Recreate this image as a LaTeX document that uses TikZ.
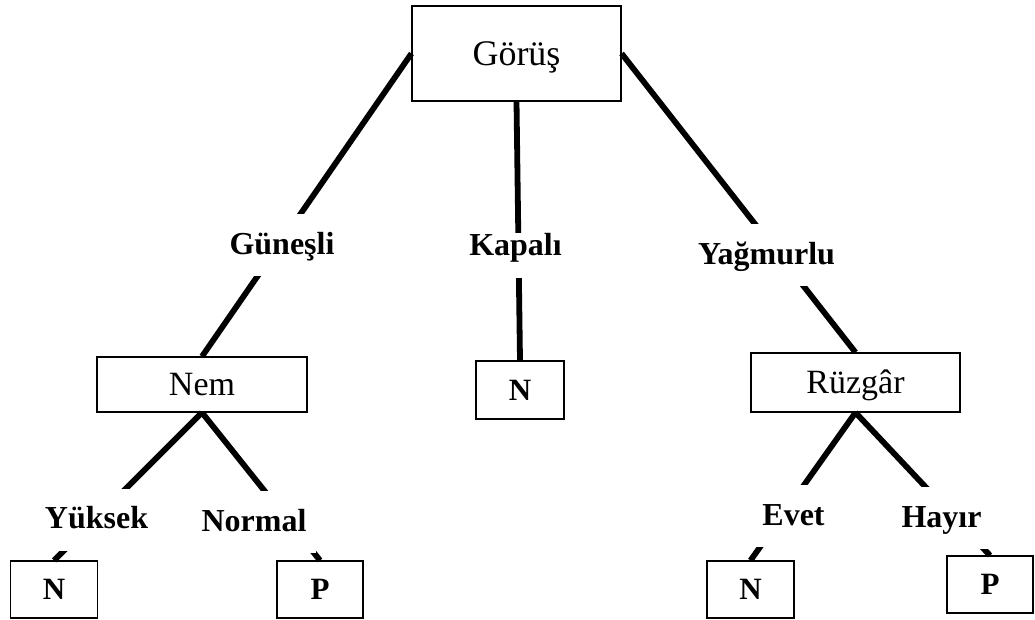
\documentclass[tikz,border=0pt]{standalone}
\usepackage{fontspec}
\setmainfont{Liberation Serif}
\begin{document}
\begin{tikzpicture}[x=1pt,y=-1pt,
  box/.style={draw, line width=1.1pt, inner sep=0pt, font=\fontsize{34}{40}\selectfont},
  leaf/.style={draw, line width=1.1pt, inner sep=0pt, minimum width=87pt, minimum height=57pt, font=\bfseries\fontsize{31}{37}\selectfont},
  edge/.style={line width=5.8pt},
  lbl/.style={fill=white, inner xsep=10pt, inner ysep=0pt, text height=40pt, text depth=22pt, anchor=base, font=\bfseries\fontsize{32}{38}\selectfont}]
\useasboundingbox (0,0) rectangle (1035,619);
% boxes
\node[box, minimum width=209pt, minimum height=95pt, text height=30pt, text depth=7pt, font=\fontsize{36}{43}\selectfont] (root) at (516.5,53.5) {Görüş};
\node[box, minimum width=210pt, minimum height=55pt] (nem) at (202,384.5) {Nem};
\node[leaf, minimum width=88pt, minimum height=58pt] (nK) at (520,390) {N};
\node[box, minimum width=209pt, minimum height=59pt, text height=23pt, text depth=2pt] (ruz) at (855.5,382.5) {Rüzgâr};
\node[leaf] (nL) at (54,589.5) {N};
\node[leaf, minimum width=86pt] (pL) at (320,589.5) {P};
\node[leaf] (nR) at (750.5,589.5) {N};
\node[leaf, minimum width=86pt] (pR) at (990,584.5) {P};
% connectors
\draw[edge] (root.west) -- (nem.north);
\draw[edge] (root.south) -- (nK.north);
\draw[edge] (root.east) -- (ruz.north);
\draw[edge] (nem.south) -- (nL.north);
\draw[edge] (nem.south) -- (pL.north);
\draw[edge] (ruz.south) -- (nR.north);
\draw[edge] (ruz.south) -- (pR.north);
% labels
\node[lbl] (lg) at (282,254) {Güneşli};
\node[lbl, text height=23pt] (lk) at (515.5,255.5) {Kapalı};
\node[lbl] (ly) at (766.5,264) {Yağmurlu};
\node[lbl] (lyu) at (96.5,528.5) {Yüksek};
\node[lbl] (lno) at (254,531) {Normal};
\node[lbl] (lev) at (793.5,525) {Evet};
\node[lbl] (lha) at (941.5,527) {Hayır};
\end{tikzpicture}
\end{document}
